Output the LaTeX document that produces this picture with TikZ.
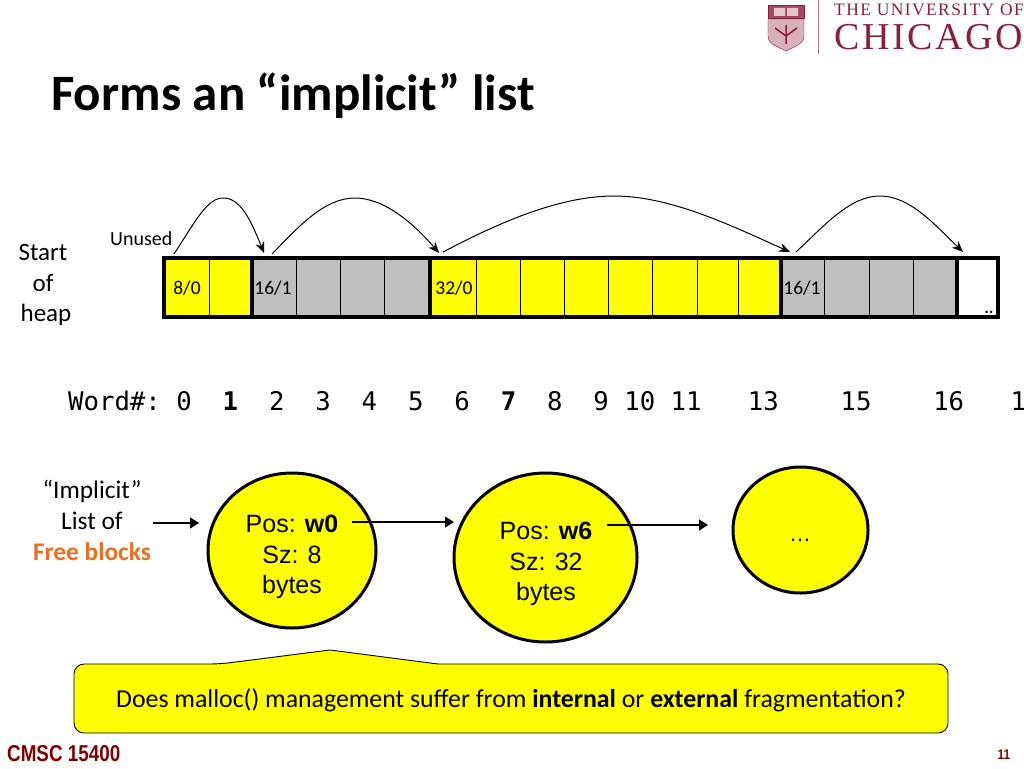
\documentclass[tikz,border=0pt]{standalone}
\usepackage{fontspec}
\setmainfont{Carlito}
\newfontfamily\arialfont{Liberation Sans}
\newfontfamily\logofont{Liberation Serif}
\setmonofont{DejaVu Sans Mono}
\usetikzlibrary{arrows.meta}
\usetikzlibrary{shapes.geometric}
\definecolor{heapyellow}{RGB}{255,255,0}
\definecolor{heapgray}{RGB}{191,191,191}
\definecolor{freeorange}{RGB}{237,110,30}
\definecolor{logored}{RGB}{140,30,60}
\definecolor{footred}{RGB}{128,0,0}
\newcommand{\fsize}[2]{\fontsize{#1}{#2}\selectfont}
\tikzset{
    heapcell/.style={draw=black, line width=1.2pt, inner sep=0pt, anchor=north west},
    cellnum/.style={inner sep=0pt, font=\fsize{19.5}{24}},
    listblob/.style={ellipse, draw=black, line width=3pt, fill=heapyellow, inner sep=0pt},
    blobtext/.style={inner sep=0pt, align=center, font=\arialfont\fsize{25}{30.5}},
    hop/.style={black, line width=1pt, -{Stealth[length=11pt,width=9pt]}},
    listarrow/.style={black, line width=1.5pt, -{Triangle[length=9pt,width=11pt]}},
}
\begin{document}
\begin{tikzpicture}[x=1pt,y=-1pt]
        \useasboundingbox (0,0) rectangle (1024,768);
        \clip (0,0) rectangle (1024,768);
        \node[anchor=base west, inner sep=0pt, font=\bfseries\fsize{51}{60}] (title) at (51,110) {Forms an “implicit” list};
        % logo
        \node[anchor=base west, inner sep=0pt, text=logored, font=\logofont\fsize{17.5}{20}\addfontfeature{LetterSpace=8}] (logotop) at (834,16) {THE UNIVERSITY OF};
        \node[anchor=base west, inner sep=0pt, text=logored, font=\logofont\fsize{38}{44}\addfontfeature{LetterSpace=7}] (logomain) at (834,49) {CHICAGO};
        \draw[logored!60, line width=0.8pt] (818,0) -- (818,54);
        \filldraw[draw=logored, fill=logored!35] (768,19) -- (804,19) -- (804,36) .. controls (804,44) and (794,47) .. (786,51) .. controls (778,47) and (768,44) .. (768,36) -- cycle;
        \filldraw[draw=logored, fill=logored!80] (768,5) rectangle (804,18);
        \fill[logored!25] (774,8) rectangle (785,16) (787,8) rectangle (798,16);
        \draw[logored, line width=1.5pt] (786,25) -- (786,44) (775,28) -- (786,36) -- (797,28);
        % heap bar
        \foreach \nm/\x/\w/\c in {c0/164/45/heapyellow, c1/209/43/heapyellow, c2/252/44/heapgray, c3/296/44/heapgray, c4/340/44/heapgray, c5/384/46/heapgray, c6/430/46/heapyellow, c7/476/44/heapyellow, c8/520/44/heapyellow, c9/564/44/heapyellow, c10/608/44/heapyellow, c11/652/45/heapyellow, c12/697/41/heapyellow, c13/738/43/heapyellow, c14/781/43/heapgray, c15/824/45/heapgray, c16/869/44/heapgray, c17/913/44/heapgray, c18/957/41/white} {
                \node[heapcell, fill=\c, minimum width=\w pt, minimum height=59pt] (\nm) at (\x,258) {};
            }
        \draw[black, line width=3.5pt] (164,258) rectangle (998,317);
        \foreach \x in {252,430,781,957} {
                \draw[black, line width=4pt] (\x,258) -- (\x,317);
            }
        \draw[black, line width=4.5pt] (738,258) -- (781,258);
        \node[cellnum] (n0) at (187,288) {8/0};
        \node[cellnum] (n2) at (273,288) {16/1};
        \node[cellnum] (n6) at (454,288) {32/0};
        \node[cellnum] (n14) at (802,288) {16/1};
        \node[inner sep=0pt, font=\bfseries\fsize{16}{16}] (dots) at (989,312) {..};
        \node[anchor=base west, inner sep=0pt, font=\fsize{20}{24}] (unused) at (110,245) {Unused};
        \node[inner sep=0pt, align=center, font=\fsize{25}{30.5}] (heapstart) at (43,285) {Start\\of\\\hspace*{6pt}heap};
        % hops
        \coordinate (h0) at (174,254);
        \coordinate (h1) at (264,253);
        \coordinate (h2) at (272,254);
        \coordinate (h3) at (439,253);
        \coordinate (h4) at (443,252);
        \coordinate (h5) at (790,252);
        \coordinate (h6) at (796,252);
        \coordinate (h7) at (963,252);
        \draw[hop] (h0) .. controls (195,222) and (207,198) .. (223,198) .. controls (240,198) and (250,218) .. (h1);
        \draw[hop] (h2) .. controls (300,225) and (325,198) .. (355,198) .. controls (385,198) and (415,225) .. (h3);
        \draw[hop] (h4) .. controls (500,222) and (560,196) .. (614,196) .. controls (670,196) and (730,225) .. (h5);
        \draw[hop] (h6) .. controls (825,225) and (850,196) .. (880,196) .. controls (910,196) and (935,225) .. (h7);
        % word numbers
        \node[anchor=base west, inner sep=0pt, font=\ttfamily\fsize{25.66}{30}] (words) at (68,410) {Word\#:~0~~\textbf{1}~~2~~3~~4~~5~~6~~\textbf{7}~~8~~9~10~11~~~13~~~~15~~~~16~~~1};
        % implicit list
        \node[inner sep=0pt, align=center, font=\fsize{25.4}{31}] (implicit) at (92,520.5) {“Implicit”\\List of\\\textcolor{freeorange}{\textbf{Free blocks}}};
        \node[listblob, minimum width=168pt, minimum height=155pt] (b0) at (292,550.5) {};
        \node[listblob, minimum width=183pt, minimum height=169pt] (b1) at (545.5,557.5) {};
        \node[listblob, minimum width=135pt, minimum height=126pt] (b2) at (800.5,530) {};
        \node[blobtext] (t0) at (292,557) {Pos: \textbf{w0}\\Sz: 8\\bytes};
        \node[blobtext] (t1) at (546,564) {Pos: \textbf{w6}\\Sz: 32\\bytes};
        \node[anchor=base, inner sep=0pt, font=\arialfont\fsize{22}{26}] (t2) at (800,541) {…};
        \coordinate (a0) at (153,523);
        \coordinate (a1) at (199,523);
        \coordinate (a2) at (352,522);
        \coordinate (a3) at (454,522);
        \coordinate (a4) at (607,525);
        \coordinate (a5) at (708,525);
        \draw[listarrow] (a0) -- (a1);
        \draw[listarrow] (a2) -- (a3);
        \draw[listarrow] (a4) -- (a5);
        % callout
        \draw[black, fill=heapyellow, line width=0.9pt, rounded corners=10pt] (74,664) -- (220,664) [sharp corners] -- (330,650) -- (438,664) [rounded corners=10pt] -- (948,664) -- (948,733) -- (74,733) -- cycle;
        \node[inner sep=0pt, font=\fsize{25.8}{30}] (question) at (511,700.5) {Does malloc() management suffer from \textbf{internal} or \textbf{external} fragmentation?};
        % footer
        \node[anchor=base west, inner sep=0pt, text=footred, font=\arialfont\bfseries\fsize{23}{26}, xscale=0.82] (course) at (7,761) {CMSC 15400};
        \node[inner sep=0pt, text=footred, font=\arialfont\bfseries\fsize{14}{16}, xscale=0.85] (pagenum) at (1004,755) {11};
    \end{tikzpicture}
\end{document}
